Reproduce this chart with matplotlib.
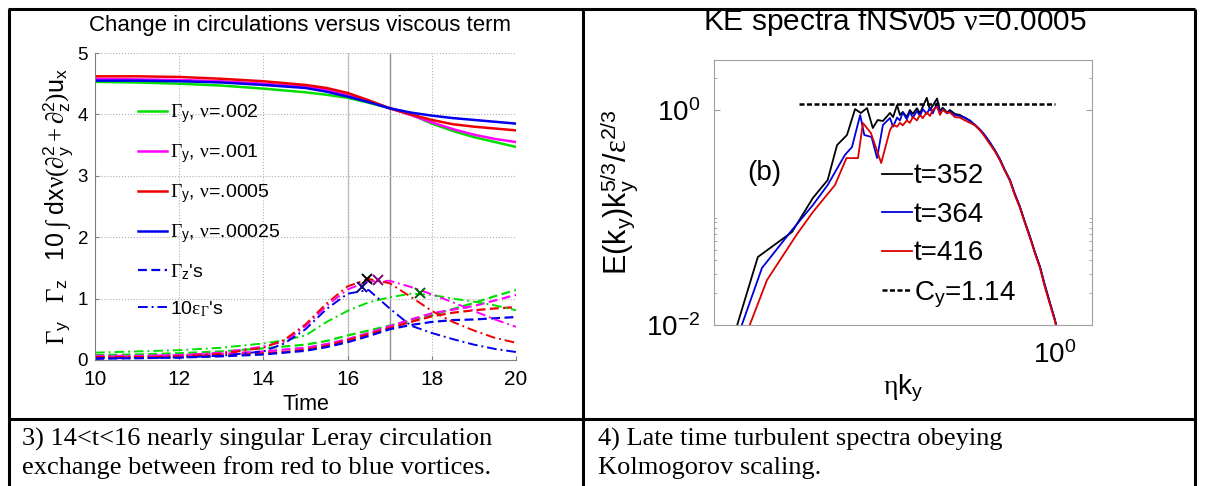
import matplotlib
matplotlib.use("Agg")
import matplotlib.pyplot as plt
from matplotlib.ticker import FixedLocator, NullFormatter, LogFormatterMathtext

plt.rcParams['font.family'] = ['Liberation Sans', 'DejaVu Sans']
plt.rcParams['mathtext.fontset'] = 'custom'
plt.rcParams['mathtext.rm'] = 'Liberation Serif'
plt.rcParams['mathtext.it'] = 'Liberation Serif:italic'
plt.rcParams['mathtext.sf'] = 'Liberation Sans'
plt.rcParams['mathtext.bf'] = 'Liberation Sans:bold'

W, H = 1206, 486

# ---- panel 3: circulations versus time ----
t = [10, 11, 12, 13, 14, 15, 15.5, 16, 16.5, 17, 17.5, 18, 18.5, 19, 19.5, 20]
gy_002 = [4.53, 4.52, 4.50, 4.47, 4.42, 4.36, 4.32, 4.27, 4.19, 4.10, 4.00, 3.85, 3.73, 3.63, 3.55, 3.47]
gy_001 = [4.58, 4.57, 4.56, 4.54, 4.50, 4.45, 4.40, 4.32, 4.22, 4.10, 3.99, 3.87, 3.76, 3.67, 3.60, 3.55]
gy_0005 = [4.62, 4.62, 4.61, 4.58, 4.54, 4.48, 4.43, 4.35, 4.23, 4.10, 4.00, 3.91, 3.84, 3.80, 3.77, 3.74]
gy_00025 = [4.55, 4.55, 4.54, 4.52, 4.48, 4.43, 4.37, 4.29, 4.20, 4.10, 4.03, 3.98, 3.94, 3.91, 3.88, 3.85]

t_low = [10, 11, 12, 13, 14, 14.5, 15, 15.5, 16, 16.5, 17, 17.5, 18, 18.5, 19, 19.5, 20]
gz_002 = [0.08, 0.09, 0.11, 0.14, 0.19, 0.22, 0.25, 0.31, 0.40, 0.48, 0.56, 0.64, 0.73, 0.83, 0.93, 1.04, 1.14]
gz_001 = [0.05, 0.06, 0.08, 0.10, 0.14, 0.17, 0.20, 0.26, 0.34, 0.44, 0.55, 0.66, 0.76, 0.82, 0.88, 0.97, 1.06]
gz_0005 = [0.03, 0.04, 0.05, 0.07, 0.11, 0.13, 0.17, 0.23, 0.32, 0.42, 0.52, 0.62, 0.71, 0.77, 0.81, 0.84, 0.86]
gz_00025 = [0.02, 0.03, 0.04, 0.06, 0.09, 0.12, 0.15, 0.21, 0.29, 0.39, 0.50, 0.57, 0.62, 0.65, 0.66, 0.68, 0.70]
eps_002 = [0.12, 0.14, 0.16, 0.20, 0.27, 0.32, 0.40, 0.62, 0.80, 0.94, 1.02, 1.08, 1.06, 1.00, 0.95, 0.89, 0.81]
eps_001 = [0.07, 0.07, 0.08, 0.12, 0.22, 0.30, 0.55, 0.88, 1.15, 1.28, 1.29, 1.19, 1.07, 0.94, 0.80, 0.66, 0.54]
eps_0005 = [0.05, 0.05, 0.06, 0.10, 0.20, 0.33, 0.58, 0.92, 1.20, 1.32, 1.25, 1.03, 0.80, 0.62, 0.48, 0.36, 0.28]
eps_00025 = [0.03, 0.03, 0.04, 0.07, 0.14, 0.27, 0.50, 0.83, 1.08, 1.14, 0.84, 0.56, 0.44, 0.34, 0.25, 0.18, 0.13]
peak_t = [17.72, 16.72, 16.46, 16.34]
peak_v = [1.09, 1.30, 1.32, 1.19]
peak_col = ['#006000', '#800080', 'black', '#000080']

# ---- panel 4: compensated KE spectra ----
k352 = [0.0376, 0.0493, 0.0697, 0.0861, 0.100, 0.110, 0.1216, 0.132, 0.140, 0.149, 0.158, 0.166,
        0.175, 0.188, 0.194, 0.202, 0.208, 0.214, 0.223, 0.230, 0.237, 0.247, 0.255, 0.262, 0.273,
        0.282, 0.290, 0.303, 0.312, 0.321, 0.335, 0.345, 0.363, 0.382, 0.402, 0.423, 0.445, 0.468,
        0.49, 0.518, 0.545, 0.573, 0.60, 0.634, 0.665, 0.701, 0.735, 0.776, 0.815, 0.859, 0.90,
        0.951, 1.0, 1.04]
e352 = [0.0065, 0.0429, 0.0733, 0.152, 0.223, 0.472, 0.585, 1.02, 0.938, 1.044, 0.68, 0.807,
        0.79, 0.94, 0.86, 1.11, 0.90, 0.96, 0.86, 1.0, 0.92, 1.04, 0.93, 1.07, 1.30,
        1.0, 1.10, 1.28, 0.98, 1.05, 0.95, 1.0, 0.92, 0.90, 0.84, 0.80, 0.72, 0.65,
        0.58, 0.49, 0.42, 0.343, 0.28, 0.22, 0.165, 0.125, 0.092, 0.066, 0.048, 0.0347, 0.024,
        0.016, 0.0111, 0.0078]
k364 = [0.039, 0.0514, 0.0697, 0.0861, 0.100, 0.119, 0.128, 0.139, 0.145, 0.156, 0.165, 0.175,
        0.188, 0.194, 0.202, 0.208, 0.214, 0.223, 0.230, 0.237, 0.247, 0.255, 0.262, 0.273,
        0.282, 0.290, 0.303, 0.312, 0.321, 0.335, 0.345, 0.363, 0.382, 0.402, 0.423, 0.445, 0.468,
        0.49, 0.518, 0.545, 0.573, 0.60, 0.634, 0.665, 0.701, 0.735, 0.776, 0.815, 0.859, 0.90,
        0.951, 1.0, 1.04]
e364 = [0.0065, 0.0339, 0.0765, 0.1306, 0.2005, 0.381, 0.453, 0.898, 0.585, 0.561, 0.357, 0.725,
        0.843, 0.70, 0.85, 0.80, 0.95, 0.82, 0.96, 0.85, 0.98, 0.88, 1.02, 0.92,
        1.05, 0.93, 1.16, 0.95, 1.02, 0.93, 0.97, 0.90, 0.88, 0.85, 0.79, 0.73, 0.66,
        0.59, 0.50, 0.42, 0.35, 0.28, 0.225, 0.168, 0.127, 0.093, 0.067, 0.048, 0.035, 0.024,
        0.016, 0.0112, 0.0078]
k416 = [0.042, 0.0541, 0.0733, 0.0861, 0.1077, 0.121, 0.136, 0.143, 0.155, 0.172,
        0.188, 0.194, 0.202, 0.208, 0.214, 0.223, 0.230, 0.237, 0.247, 0.255, 0.262, 0.273,
        0.282, 0.290, 0.303, 0.312, 0.321, 0.335, 0.345, 0.363, 0.382, 0.402, 0.423, 0.445, 0.468,
        0.49, 0.518, 0.545, 0.573, 0.60, 0.634, 0.665, 0.701, 0.735, 0.776, 0.815, 0.859, 0.90,
        0.951, 1.0, 1.04]
e416 = [0.0065, 0.0262, 0.07, 0.1125, 0.2005, 0.357, 0.357, 0.757, 0.611, 0.321,
        0.65, 0.73, 0.70, 0.76, 0.72, 0.80, 0.76, 0.86, 0.80, 0.90, 0.84, 0.95,
        0.88, 1.0, 1.07, 0.90, 1.0, 0.94, 0.95, 0.86, 0.85, 0.80, 0.76, 0.72, 0.65,
        0.57, 0.48, 0.41, 0.34, 0.275, 0.22, 0.163, 0.124, 0.091, 0.065, 0.047, 0.034, 0.023,
        0.0155, 0.0109, 0.0076]
cy_k = [0.075, 1.0]
cy = [1.14, 1.14]

fig = plt.figure(figsize=(W / 100, H / 100), dpi=100)


def rect(x0, y0, x1, y1):
    return [x0 / W, 1 - y1 / H, (x1 - x0) / W, (y1 - y0) / H]


# table frame and captions
fr = fig.add_axes([0, 0, 1, 1])
fr.set_xlim(0, W)
fr.set_ylim(H, 0)
fr.axis('off')
for (xa, xb, ya, yb) in [(8, 1195, 9.5, 9.5), (8, 1195, 418.5, 418.5),
                         (8.5, 8.5, 9, H), (582.5, 582.5, 9, H), (1195, 1195, 9, H)]:
    fr.plot([xa, xb], [ya, yb], color='black', lw=2.2, solid_capstyle='butt')
serif = ['Liberation Serif', 'DejaVu Serif']
fr.text(22, 439, '3) 14<t<16 nearly singular Leray circulation', family=serif, fontsize=19, va='center')
fr.text(22, 468, 'exchange between from red to blue vortices.', family=serif, fontsize=19, va='center')
fr.text(598, 439, '4) Late time turbulent spectra obeying', family=serif, fontsize=19, va='center')
fr.text(598, 468, 'Kolmogorov scaling.', family=serif, fontsize=19, va='center')
fr.text(300, 25, 'Change in circulations versus viscous term', fontsize=16, ha='center', va='center')
fr.text(895, 22, r'KE spectra fNSv05 $\mathrm{\nu}$=0.0005', fontsize=21.5, ha='center', va='center')

# ---- left panel ----
ax = fig.add_axes(rect(95, 53, 516, 360))
ax.axvline(16, color='#c8c8c8', lw=1.0, zorder=1)
ax.axvline(17, color='#909090', lw=1.0, zorder=1)
ax.plot(t, gy_002, color='#00e000', lw=1.8, label=r'$\Gamma_{\mathsf{y}}$, $\mathrm{\nu}$=.002')
ax.plot(t, gy_001, color='#ff00ff', lw=1.8, label=r'$\Gamma_{\mathsf{y}}$, $\mathrm{\nu}$=.001')
ax.plot(t, gy_0005, color='#ee0000', lw=1.8, label=r'$\Gamma_{\mathsf{y}}$, $\mathrm{\nu}$=.0005')
ax.plot(t, gy_00025, color='#0000ee', lw=1.8, label=r'$\Gamma_{\mathsf{y}}$, $\mathrm{\nu}$=.00025')
for vals, c in [(gz_002, '#00e000'), (gz_001, '#ff00ff'), (gz_0005, '#ee0000'), (gz_00025, '#0000ee')]:
    ax.plot(t_low, vals, color=c, lw=1.6, ls=(0, (4, 2)))
for vals, c in [(eps_002, '#00e000'), (eps_001, '#ff00ff'), (eps_0005, '#ee0000'), (eps_00025, '#0000ee')]:
    ax.plot(t_low, vals, color=c, lw=1.4, ls=(0, (5, 2, 1, 2)))
for pt, pv, pc in zip(peak_t, peak_v, peak_col):
    ax.plot(pt, pv, marker='x', color=pc, ms=7, mew=1.4, zorder=5)
ax.plot([], [], color='#0000ee', lw=1.6, ls=(0, (4, 2)), label=r"$\Gamma_{\mathsf{z}}$'s")
ax.plot([], [], color='#0000ee', lw=1.4, ls=(0, (5, 2, 1, 2)), label=r"10$\mathrm{\varepsilon}_{\Gamma}$'s")
ax.set_xlim(10, 20)
ax.set_ylim(0, 5)
ax.set_xticks(range(10, 21, 2))
ax.set_yticks(range(0, 6))
ax.grid(True, ls=':', color='#b0b0b0', lw=0.8)
for s in ['top', 'right']:
    ax.spines[s].set_visible(False)
for s in ['left', 'bottom']:
    ax.spines[s].set_color('#808080')
ax.tick_params(axis='both', direction='in', length=3, color='#808080')
ax.tick_params(axis='x', labelsize=15, pad=7)
ax.tick_params(axis='y', labelsize=13.5, pad=5)
ax.set_xlabel('Time', fontsize=15.5, labelpad=4)
ax.set_ylabel(r'$\Gamma_{\mathsf{y}}\quad\Gamma_{\mathsf{z}}\quad\mathsf{10}\ \int\ \mathsf{dx}\mathrm{\nu}'
              r'(\partial^{\mathsf{2}}_{\mathsf{y}}+\partial^{\mathsf{2}}_{\mathsf{z}})\mathsf{u}_{\mathsf{x}}$',
              fontsize=18, labelpad=2)
ax.legend(loc='upper left', bbox_to_anchor=(0.102, 0.84), frameon=False, fontsize=14,
          handlelength=1.5, handletextpad=0.15, labelspacing=0.88, borderaxespad=0, borderpad=0)

# ---- right panel ----
bx = fig.add_axes(rect(714, 60, 1092, 325))
bx.plot(k352, e352, color='black', lw=1.3, label='t=352')
bx.plot(k364, e364, color='#0000dd', lw=1.3, label='t=364')
bx.plot(k416, e416, color='#dd0000', lw=1.3, label='t=416')
bx.plot(cy_k, cy, color='black', lw=1.8, ls=(0, (2, 1)), label=r'C$_{\mathsf{y}}$=1.14')
bx.set_xscale('log')
bx.set_yscale('log')
bx.set_xlim(10 ** -1.5, 10 ** 0.163)
bx.set_ylim(0.01, 2.92)
bx.xaxis.set_major_locator(FixedLocator([1.0]))
bx.xaxis.set_minor_locator(FixedLocator([]))
bx.yaxis.set_major_locator(FixedLocator([0.01, 1.0]))
bx.yaxis.set_minor_locator(FixedLocator([0.02, 0.03, 0.04, 0.05, 0.06, 0.07, 0.08, 0.09, 0.1, 2, 3]))
bx.xaxis.set_major_formatter(LogFormatterMathtext())
bx.yaxis.set_major_formatter(LogFormatterMathtext())
bx.yaxis.set_minor_formatter(NullFormatter())
for s in bx.spines.values():
    s.set_color('#a0a0a0')
bx.tick_params(axis='both', which='both', direction='in', color='#a0a0a0', right=True, top=False)
bx.tick_params(axis='both', which='major', length=4, labelsize=20)
bx.tick_params(axis='both', which='minor', length=2.5)
bx.tick_params(axis='y', pad=10)
bx.tick_params(axis='x', pad=12)
bx.set_xlabel(r'$\mathrm{\eta}$k$_{\mathsf{y}}$', fontsize=20, labelpad=2)
bx.set_ylabel(r'E(k$_{\mathsf{y}}$)k$_{\mathsf{y}}^{\mathsf{5/3}}$/$\mathrm{\varepsilon}^{\mathsf{2/3}}$',
              fontsize=22, labelpad=4)
bx.text(0.0525, 0.26, '(b)', fontsize=20, ha='center', va='center')
bx.legend(loc='upper left', bbox_to_anchor=(0.444, 0.61), frameon=False, fontsize=20,
          handlelength=1.1, handletextpad=0.05, labelspacing=0.45, borderaxespad=0, borderpad=0)

fig.savefig('out.png', dpi=100)
